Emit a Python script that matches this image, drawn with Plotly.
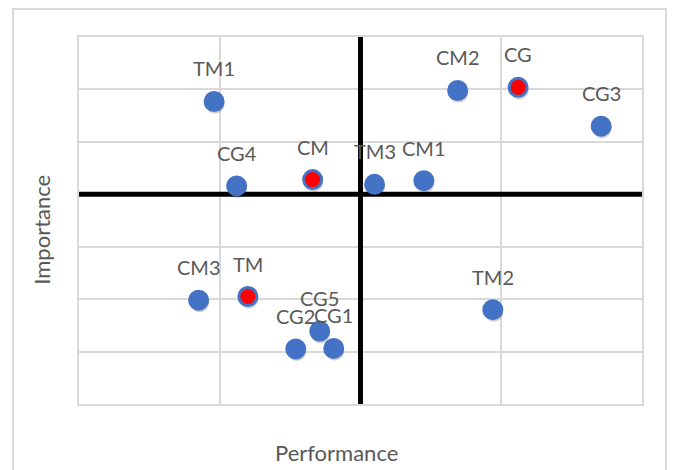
import plotly.graph_objects as go

# ---- data ----
labels = ["TM1", "CM2", "CG", "CG3", "CG4", "CM", "TM3", "CM1",
          "CM3", "TM", "TM2", "CG5", "CG2", "CG1"]
performance = [0.96, 2.69, 3.12, 3.71, 1.12, 1.66, 2.10, 2.45,
               0.85, 1.20, 2.94, 1.71, 1.54, 1.81]
importance = [5.77, 5.98, 6.04, 5.30, 4.16, 4.28, 4.19, 4.26,
              1.98, 2.05, 1.80, 1.39, 1.05, 1.06]
highlight = ["CG", "CM", "TM"]

x_mid = 2
y_mid = 4
x_range = [0, 4]
y_range = [0, 7]

BLUE = "#4472C4"
RED = "#FF0000"
GRAY_TXT = "#595959"
GRID = "#D9D9D9"
FONT = "Lato"

fill = [RED if l in highlight else BLUE for l in labels]

# page offset caused by the default body margin
OFF = 8
W, H = 675 - OFF, 470 - OFF
# plot area in page pixels: x 79..642, y 37..404.5
L, R, T, B = 79 - OFF, 675 - 642, 37 - OFF, 470 - 404.5
pw, ph = W - L - R, H - T - B


def px_to_paper(px, py):
    return (px - OFF - L) / pw, (H - B - (py - OFF)) / ph


fig = go.Figure()

# quadrant dividers (drawn as traces so they sit over the grid, under the markers)
fig.add_trace(go.Scatter(x=[x_mid, x_mid], y=y_range, mode="lines",
                         line=dict(color="black", width=5),
                         hoverinfo="skip", showlegend=False))
fig.add_trace(go.Scatter(x=x_range, y=[y_mid, y_mid], mode="lines",
                         line=dict(color="black", width=5),
                         hoverinfo="skip", showlegend=False))

# soft shadow
fig.add_trace(go.Scatter(
    x=[v + 0.007 for v in performance], y=[v - 0.05 for v in importance], mode="markers",
    marker=dict(size=19, color="rgba(0,0,0,0.18)", line=dict(width=0)),
    hoverinfo="skip", showlegend=False))

fig.add_trace(go.Scatter(
    x=performance, y=importance, mode="markers",
    marker=dict(size=18, color=fill, line=dict(color=BLUE, width=3)),
    text=labels, hoverinfo="text", showlegend=False))

annotations = []
for xl, yl, t in zip(performance, importance, labels):
    annotations.append(dict(x=xl, y=yl, text=t, showarrow=False, yshift=33,
                            xanchor="center", yanchor="middle",
                            font=dict(family=FONT, size=20, color=GRAY_TXT)))

# axis titles (placed in page pixels)
px, py = px_to_paper(336.5, 453)
annotations.append(dict(x=px, y=py, xref="paper", yref="paper", text="Performance",
                        xanchor="center", yanchor="middle",
                        showarrow=False, font=dict(family=FONT, size=22, color=GRAY_TXT)))
px, py = px_to_paper(42, 230)
annotations.append(dict(x=px, y=py, xref="paper", yref="paper", text="Importance",
                        xanchor="center", yanchor="middle",
                        showarrow=False, textangle=-90,
                        font=dict(family=FONT, size=22, color=GRAY_TXT)))

x0b, y0b = px_to_paper(13, 9)
x1b, y1b = px_to_paper(666, 490)

shapes = [
    dict(type="rect", xref="paper", yref="paper", x0=x0b, x1=x1b, y0=y1b, y1=y0b,
         line=dict(color=GRID, width=2), layer="below"),
]

fig.update_layout(
    width=W, height=H,
    margin=dict(l=L, r=R, t=T, b=B),
    paper_bgcolor="white", plot_bgcolor="white",
    shapes=shapes, annotations=annotations,
    xaxis=dict(range=x_range, dtick=1, tick0=0, showticklabels=False, ticks="",
               showgrid=True, gridcolor=GRID, gridwidth=2, zeroline=False,
               showline=True, mirror=True, linecolor=GRID, linewidth=2, fixedrange=True),
    yaxis=dict(range=y_range, dtick=1, tick0=0, showticklabels=False, ticks="",
               showgrid=True, gridcolor=GRID, gridwidth=2, zeroline=False,
               showline=True, mirror=True, linecolor=GRID, linewidth=2, fixedrange=True),
)

fig.write_html("out.html", config={"displayModeBar": False})
